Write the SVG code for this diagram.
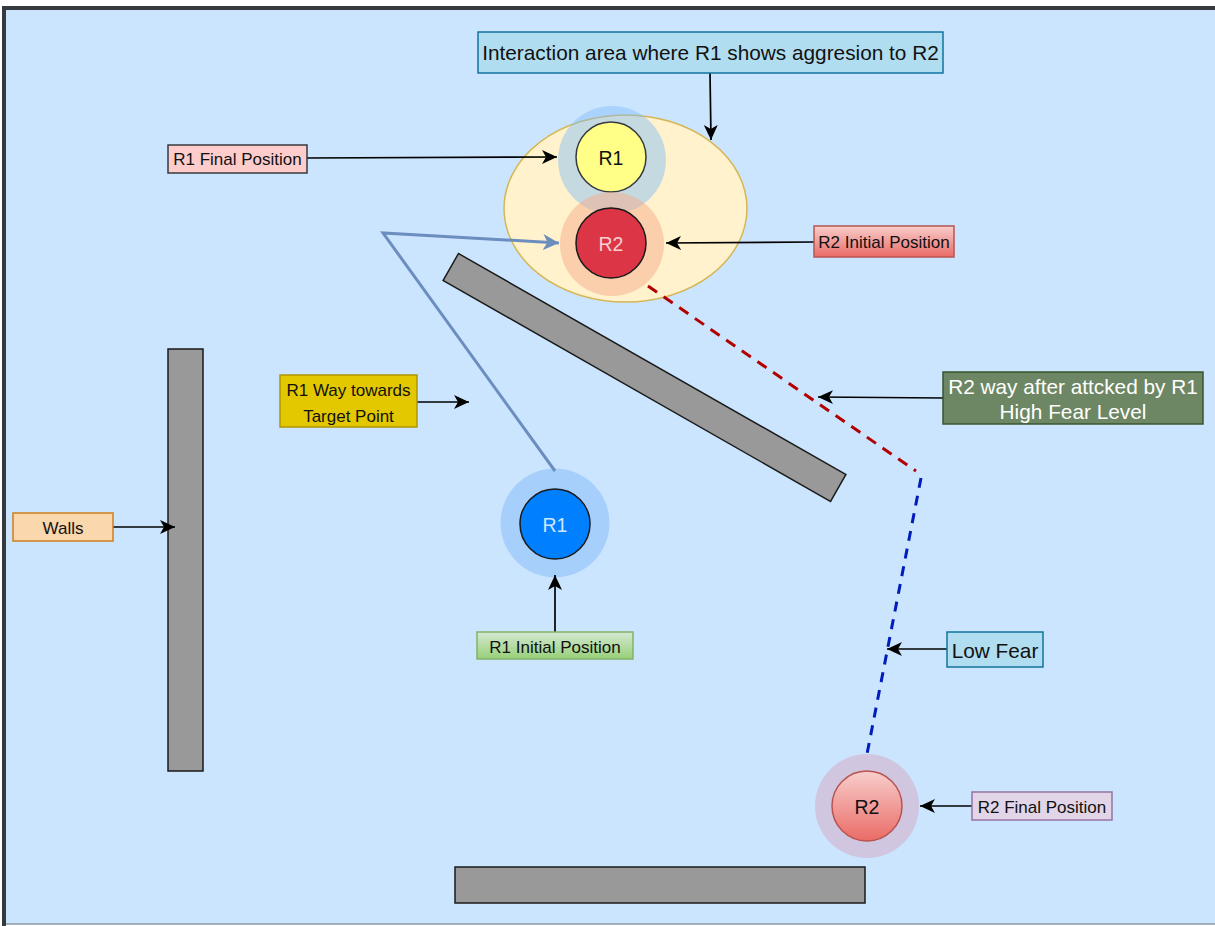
<svg xmlns="http://www.w3.org/2000/svg" width="1215" height="926" viewBox="0 0 1215 926">
  <style>
    text { font-family: "Liberation Sans", Arial, sans-serif; text-anchor: middle; dominant-baseline: central; fill: #111; }
    .lbl { font-size: 17px; }
    .big { font-size: 20.8px; }
    .robot { font-size: 19.5px; }
    .wall { fill: #999999; stroke: #1a1a1a; stroke-width: 1.5; }
    .arrow { fill: none; stroke: #000; stroke-width: 1.7; marker-end: url(#head); }
  </style>
  <defs>
    <marker id="head" markerUnits="userSpaceOnUse" markerWidth="18" markerHeight="16" refX="15" refY="8" orient="auto">
      <path d="M0,1 L15,8 L0,15 L4,8 Z" fill="#000"/>
    </marker>
    <marker id="headBlue" markerUnits="userSpaceOnUse" markerWidth="18" markerHeight="16" refX="16" refY="8" orient="auto">
      <path d="M0,0 L16,8 L0,16 L4.5,8 Z" fill="#6c8ebf"/>
    </marker>
    <linearGradient id="redGrad" x1="0" y1="0" x2="0" y2="1">
      <stop offset="0" stop-color="#f8cecc"/>
      <stop offset="1" stop-color="#ea6b66"/>
    </linearGradient>
    <linearGradient id="greenGrad" x1="0" y1="0" x2="0" y2="1">
      <stop offset="0" stop-color="#d5e8d4"/>
      <stop offset="1" stop-color="#97d077"/>
    </linearGradient>
  </defs>

  <!-- canvas / frame -->
  <rect x="0" y="0" width="1215" height="926" fill="#ffffff"/>
  <rect x="6" y="10" width="1215" height="914" fill="#cce5ff"/>
  <line x1="4" y1="8" x2="4" y2="926" stroke="#36393d" stroke-width="4"/>
  <line x1="2" y1="8" x2="1215" y2="8" stroke="#36393d" stroke-width="4"/>
  <line x1="6" y1="924" x2="1215" y2="924" stroke="#8a97a6" stroke-width="1.5"/>

  <!-- walls -->
  <g id="wall-left"><rect class="wall" x="168" y="349" width="35" height="422"/></g>
  <g id="wall-bottom"><rect class="wall" x="455" y="867" width="410" height="36"/></g>
  <g id="wall-diagonal"><rect class="wall" x="421.5" y="362" width="446" height="31" transform="rotate(29.7 644.5 377.5)"/></g>

  <!-- interaction area -->
  <g id="interaction-area">
    <ellipse cx="625.5" cy="208.5" rx="121.5" ry="93.5" fill="#fff2cc" stroke="#d6b656" stroke-width="1.5"/>
  </g>

  <!-- robots -->
  <g id="r1-final">
    <circle cx="612" cy="160" r="54" fill="#7fbcf8" fill-opacity="0.45"/>
    <circle cx="611" cy="157" r="35" fill="#ffff88" stroke="#36393d" stroke-width="1.5"/>
    <text class="robot" x="611" y="158">R1</text>
  </g>
  <g id="r2-initial">
    <circle cx="612" cy="244" r="52" fill="#f7a98c" fill-opacity="0.5"/>
    <circle cx="611" cy="243" r="35" fill="#dc3545" stroke="#1a1a1a" stroke-width="1.5"/>
    <text class="robot" x="611" y="244" style="fill:#f6d0d3">R2</text>
  </g>
  <g id="r1-initial">
    <circle cx="555" cy="523" r="54.5" fill="#a6cffb"/>
    <circle cx="555" cy="524" r="35" fill="#007fff" stroke="#1a1a1a" stroke-width="1.5"/>
    <text class="robot" x="555" y="525" style="fill:#cfe6ff">R1</text>
  </g>
  <g id="r2-final">
    <circle cx="867" cy="806" r="52" fill="#d1c6e0"/>
    <circle cx="867" cy="806" r="35" fill="url(#redGrad)" stroke="#b85450" stroke-width="1.5"/>
    <text class="robot" x="867" y="807">R2</text>
  </g>

  <!-- connectors -->
  <g id="connectors">
    <polyline points="555,471 383,233 559,243" fill="none" stroke="#6c8ebf" stroke-width="3" marker-end="url(#headBlue)"/>
    <line x1="648" y1="286" x2="916" y2="471" stroke="#b20000" stroke-width="3" stroke-dasharray="11 8"/>
    <line x1="921" y1="478" x2="867" y2="754" stroke="#001dbc" stroke-width="3" stroke-dasharray="10 8"/>
    <path class="arrow" d="M710,73 L711,140"/>
    <path class="arrow" d="M307,158 L557,157"/>
    <path class="arrow" d="M814,242 L666,243"/>
    <path class="arrow" d="M417,402 L469,402"/>
    <path class="arrow" d="M113,527 L175,527"/>
    <path class="arrow" d="M555,632 L555,575"/>
    <path class="arrow" d="M943,398 L818,397"/>
    <path class="arrow" d="M947,649 L887,649"/>
    <path class="arrow" d="M972,806 L920,806"/>
  </g>

  <!-- labels -->
  <g id="label-interaction">
    <rect x="478" y="32" width="465" height="41" fill="#b1ddf0" stroke="#10739e" stroke-width="1.5"/>
    <text class="big" x="710.5" y="52.5">Interaction area where R1 shows aggresion to R2</text>
  </g>
  <g id="label-r1-final">
    <rect x="168" y="145" width="139" height="28" fill="#ffcccc" stroke="#36393d" stroke-width="1.5"/>
    <text class="lbl" x="237.5" y="159.5">R1 Final Position</text>
  </g>
  <g id="label-r2-initial">
    <rect x="814" y="226" width="140" height="31" fill="url(#redGrad)" stroke="#b85450" stroke-width="1.5"/>
    <text class="lbl" x="884" y="242">R2 Initial Position</text>
  </g>
  <g id="label-r1-way">
    <rect x="280" y="375" width="137" height="52" fill="#e3c800" stroke="#b09500" stroke-width="1.5"/>
    <text class="lbl" x="348.5" y="390">R1 Way towards</text>
    <text class="lbl" x="348.5" y="416">Target Point</text>
  </g>
  <g id="label-walls">
    <rect x="13" y="513" width="100" height="28" fill="#fad7ac" stroke="#d07e1c" stroke-width="1.5"/>
    <text class="lbl" x="63" y="528">Walls</text>
  </g>
  <g id="label-r1-initial">
    <rect x="477" y="632" width="156" height="27" fill="url(#greenGrad)" stroke="#82b366" stroke-width="1.5"/>
    <text class="lbl" x="555" y="647">R1 Initial Position</text>
  </g>
  <g id="label-r2-way">
    <rect x="943" y="372" width="260" height="52" fill="#6d8764" stroke="#3a5431" stroke-width="1.5"/>
    <text class="big" x="1073" y="386" style="fill:#ffffff">R2 way after attcked by R1</text>
    <text class="big" x="1073" y="411" style="fill:#ffffff">High Fear Level</text>
  </g>
  <g id="label-low-fear">
    <rect x="947" y="632" width="96" height="35" fill="#b1ddf0" stroke="#10739e" stroke-width="1.5"/>
    <text class="big" x="995" y="650">Low Fear</text>
  </g>
  <g id="label-r2-final">
    <rect x="972" y="792" width="140" height="28" fill="#e1d5e7" stroke="#9673a6" stroke-width="1.5"/>
    <text class="lbl" x="1042" y="807">R2 Final Position</text>
  </g>
</svg>
